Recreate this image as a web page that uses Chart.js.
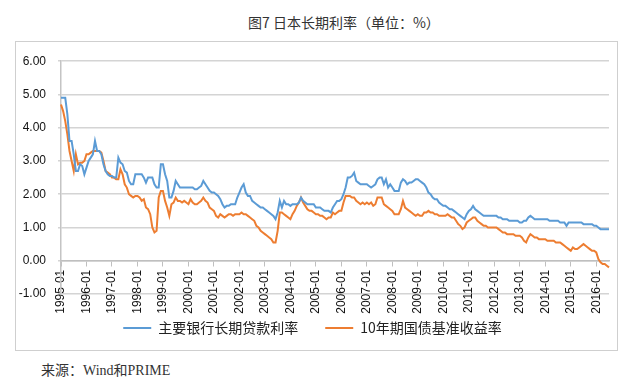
<!DOCTYPE html>
<html><head><meta charset="utf-8">
<script src="https://cdn.jsdelivr.net/npm/chart.js@4/dist/chart.umd.min.js"></script>
<style>
html,body{margin:0;padding:0;background:#fff;width:635px;height:389px;overflow:hidden;}
#title{position:absolute;left:248px;top:12px;white-space:nowrap;font:14px "Noto Sans CJK SC";color:#333;line-height:20px;}
#box{position:absolute;left:15px;top:41px;width:601px;height:308px;border:1px solid #cfcfcf;}
#c{display:block;}
#src{position:absolute;left:41px;top:359px;white-space:nowrap;font:14px "Liberation Serif","Noto Sans CJK SC";color:#333;line-height:20px;}
#src .cjk{font-family:"Noto Sans CJK SC";}
</style></head><body>
<div id="title">图7 日本长期利率（单位：%）</div>
<div id="box"><canvas id="c" width="601" height="308"></canvas></div>
<div id="src"><span class="cjk">来源：</span>Wind<span class="cjk">和</span>PRIME</div>
<script>
// Monthly categories 1995-01 .. 2016-07
const startYear = 1995;
const monthCount = 259;
const months = [];
for (let i = 0; i < monthCount; i++) {
  const y = startYear + Math.floor(i / 12);
  const m = (i % 12) + 1;
  months.push(y + '-' + (m < 10 ? '0' + m : m));
}
const seriesNames = ['主要银行长期贷款利率', '10年期国债基准收益率'];
const yTicks = [-1, 0, 1, 2, 3, 4, 5, 6];

// 主要银行长期贷款利率 (%)
const loanRate = [
 4.9,4.9,4.9,4.4,3.6,3.6,3.2,2.7,2.7,2.9,2.85,2.6,
 2.8,3.0,3.1,3.2,3.6,3.3,3.3,3.2,2.9,2.7,2.6,2.55,
 2.55,2.5,2.5,3.1,2.95,2.9,2.7,2.65,2.4,2.3,2.3,2.6,
 2.6,2.6,2.6,2.5,2.35,2.5,2.5,2.5,2.3,2.2,2.2,2.9,
 2.9,2.6,2.4,1.9,1.9,2.1,2.4,2.3,2.2,2.2,2.2,2.2,
 2.2,2.2,2.2,2.15,2.15,2.2,2.25,2.4,2.3,2.2,2.1,2.05,
 2.05,2.0,1.95,1.85,1.7,1.6,1.65,1.65,1.7,1.7,1.7,1.9,
 2.05,2.2,2.3,2.05,1.95,1.95,1.8,1.75,1.7,1.65,1.6,1.6,
 1.55,1.5,1.45,1.4,1.35,1.25,1.45,1.8,1.6,1.8,1.7,1.7,
 1.65,1.7,1.7,1.7,1.75,1.9,1.8,1.75,1.7,1.7,1.7,1.7,
 1.6,1.6,1.6,1.55,1.5,1.5,1.5,1.45,1.6,1.7,1.8,1.8,
 1.85,2.0,2.2,2.5,2.5,2.55,2.65,2.4,2.35,2.3,2.3,2.3,
 2.3,2.25,2.2,2.25,2.3,2.45,2.5,2.5,2.3,2.45,2.2,2.3,
 2.2,2.1,2.1,2.1,2.35,2.45,2.4,2.3,2.35,2.35,2.4,2.45,
 2.45,2.4,2.35,2.3,2.2,2.05,2.0,1.9,1.85,1.85,1.75,1.7,
 1.65,1.65,1.6,1.55,1.55,1.5,1.45,1.4,1.35,1.3,1.25,1.4,
 1.5,1.55,1.65,1.55,1.5,1.45,1.4,1.35,1.35,1.35,1.35,1.35,
 1.35,1.35,1.3,1.3,1.25,1.25,1.25,1.2,1.2,1.2,1.2,1.2,
 1.15,1.15,1.2,1.2,1.3,1.35,1.3,1.25,1.25,1.25,1.25,1.25,
 1.25,1.25,1.2,1.2,1.2,1.2,1.2,1.15,1.15,1.15,1.05,1.15,
 1.15,1.15,1.15,1.15,1.15,1.15,1.1,1.1,1.1,1.1,1.1,1.05,
 1.05,1.0,0.95,0.95,0.95,0.95,0.95
];
// 10年期国债基准收益率 (%)
const jgbYield = [
 4.7,4.5,4.2,3.8,3.3,3.0,2.7,3.2,2.9,2.95,2.95,3.0,
 3.2,3.2,3.25,3.3,3.3,3.3,3.3,3.25,3.0,2.7,2.65,2.6,
 2.5,2.5,2.45,2.45,2.75,2.6,2.3,2.2,2.0,1.95,1.9,1.95,
 1.95,1.9,1.8,1.85,1.6,1.55,1.4,1.0,0.85,0.9,1.9,2.1,
 2.1,1.8,1.6,1.35,1.7,1.75,1.9,1.8,1.8,1.75,1.8,1.75,
 1.7,1.85,1.75,1.7,1.7,1.75,1.8,1.9,1.8,1.75,1.6,1.55,
 1.5,1.35,1.3,1.4,1.35,1.3,1.35,1.4,1.4,1.35,1.4,1.4,
 1.4,1.45,1.4,1.4,1.35,1.3,1.25,1.2,1.05,1.0,0.9,0.85,
 0.8,0.75,0.7,0.65,0.55,0.55,0.9,1.45,1.45,1.4,1.35,1.3,
 1.25,1.4,1.5,1.65,1.75,1.9,1.75,1.65,1.55,1.5,1.5,1.45,
 1.4,1.4,1.35,1.35,1.3,1.25,1.3,1.3,1.45,1.4,1.45,1.5,
 1.5,1.75,1.95,1.95,1.95,1.9,1.9,1.8,1.75,1.7,1.75,1.7,
 1.75,1.7,1.75,1.65,1.7,1.9,1.9,1.9,1.7,1.65,1.6,1.55,
 1.5,1.4,1.4,1.4,1.55,1.8,1.6,1.55,1.5,1.45,1.4,1.35,
 1.4,1.35,1.35,1.45,1.45,1.5,1.45,1.45,1.4,1.4,1.35,1.35,
 1.35,1.35,1.4,1.35,1.3,1.3,1.2,1.1,1.05,0.95,1.0,1.15,
 1.2,1.25,1.3,1.3,1.2,1.15,1.1,1.05,1.05,1.0,1.0,1.0,
 1.0,1.0,0.95,0.9,0.85,0.85,0.8,0.8,0.8,0.8,0.75,0.75,
 0.75,0.7,0.6,0.55,0.7,0.8,0.75,0.7,0.7,0.65,0.65,0.65,
 0.65,0.6,0.6,0.6,0.6,0.55,0.55,0.55,0.5,0.45,0.4,0.35,
 0.3,0.4,0.35,0.35,0.4,0.45,0.5,0.45,0.4,0.35,0.3,0.3,
 0.25,0.05,-0.05,-0.1,-0.1,-0.15,-0.2
];

const axisFont = {family: '"Liberation Sans", Arial, sans-serif', size: 12};

new Chart(document.getElementById('c'), {
  type: 'line',
  data: {
    labels: months,
    datasets: [
      {label: seriesNames[0], data: loanRate, borderColor: '#5b9bd5', backgroundColor: '#5b9bd5',
       borderWidth: 2, pointRadius: 0, tension: 0},
      {label: seriesNames[1], data: jgbYield, borderColor: '#ed7d31', backgroundColor: '#ed7d31',
       borderWidth: 2, pointRadius: 0, tension: 0}
    ]
  },
  options: {
    responsive: false,
    devicePixelRatio: 1,
    animation: false,
    layout: {padding: {top: 16, right: 8, bottom: 5, left: 0}},
    plugins: {
      legend: {
        position: 'bottom',
        labels: {
          usePointStyle: true, pointStyle: 'line', pointStyleWidth: 28, boxHeight: 14,
          padding: 27, color: '#222',
          font: {family: '"Noto Sans CJK SC", sans-serif', size: 14}
        }
      },
      tooltip: {enabled: false}
    },
    scales: {
      x: {
        type: 'category',
        position: {y: 0},
        grid: {drawOnChartArea: false, drawTicks: true, tickLength: 5, color: '#bfbfbf', lineWidth: 1},
        border: {display: true, color: '#bfbfbf', width: 1.5},
        ticks: {
          autoSkip: false, minRotation: 90, maxRotation: 90, padding: 4, color: '#111', font: axisFont,
          callback: function (v, i) { const l = months[i]; return l.endsWith('-01') ? l : null; }
        }
      },
      y: {
        min: yTicks[0], max: yTicks[yTicks.length - 1],
        afterBuildTicks: function (s) { s.ticks = yTicks.map(v => ({value: v})); },
        afterFit: function (s) { s.width = 45; },
        grid: {color: '#d4d4d4', lineWidth: 1.5, tickLength: 3},
        border: {display: true, color: '#c4c4c4', width: 1.5},
        ticks: {padding: 12, color: '#111', font: axisFont, callback: v => Number(v).toFixed(2)}
      }
    }
  }
});
</script>
</body></html>
